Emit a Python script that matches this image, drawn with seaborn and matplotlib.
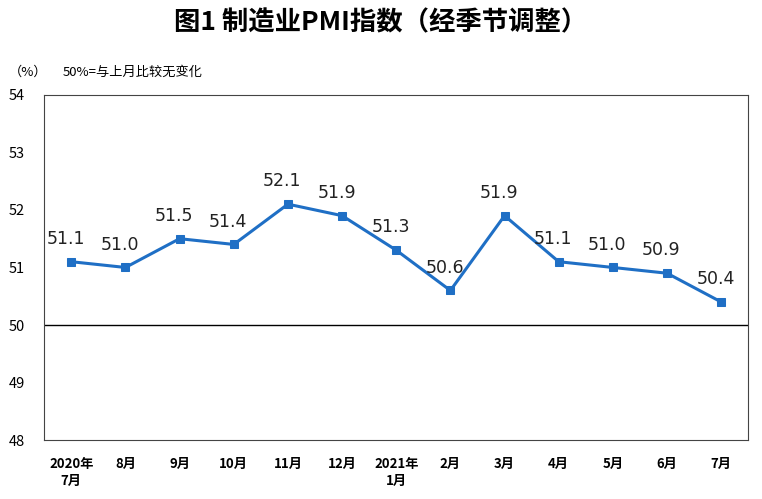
import matplotlib
matplotlib.use('Agg')
import matplotlib.pyplot as plt
from matplotlib import font_manager
import seaborn as sns
import pandas as pd

# pick an installed CJK family
cjk = [f.name for f in font_manager.fontManager.ttflist if 'CJK' in f.name]
plt.rcParams['font.family'] = (sorted(set(cjk)) or ['DejaVu Sans'])[:1] + ['DejaVu Sans']

months = ['2020年\n7月', '8月', '9月', '10月', '11月', '12月', '2021年\n1月',
          '2月', '3月', '4月', '5月', '6月', '7月']
pmi = [51.1, 51.0, 51.5, 51.4, 52.1, 51.9, 51.3, 50.6, 51.9, 51.1, 51.0, 50.9, 50.4]

df = pd.DataFrame({'idx': range(len(months)), 'pmi': pmi})

fig = plt.figure(figsize=(7.62, 4.99), dpi=100)
ax = fig.add_axes([0.058, 0.118, 0.924, 0.692])
sns.lineplot(data=df, x='idx', y='pmi', ax=ax, color='#1f6fc5', linewidth=2.2,
             marker='s', markersize=6, markeredgecolor='#1f6fc5')
ax.axhline(50, color='black', linewidth=1)

ax.set_xlim(-0.5, 12.5)
ax.set_ylim(48, 54)
ax.set_yticks(range(48, 55))
ax.set_xticks(range(len(months)))
ax.set_xticklabels(months, fontsize=9.5, fontweight='bold', va='top', linespacing=1.3)
ax.tick_params(axis='both', length=0, pad=12)
ax.tick_params(axis='y', labelsize=10.5, pad=14)
ax.set_xlabel('')
ax.set_ylabel('')

for i, v in enumerate(pmi):
    ax.annotate(f'{v:.1f}', (i, v), xytext=(-4, 10), textcoords='offset points',
                ha='center', va='bottom', fontsize=12.5, color='#222222',
                fontfamily='DejaVu Sans')

for s in ax.spines.values():
    s.set_color('#444444')

fig.text(0.5, 0.955, '图1 制造业PMI指数（经季节调整）', ha='center', va='center',
         fontsize=19, fontweight='bold')
fig.text(0.012, 0.855, '（%）', fontsize=9.5, va='center')
fig.text(0.082, 0.855, '50%=与上月比较无变化', fontsize=9.5, va='center')

fig.savefig('out.png', dpi=100)
